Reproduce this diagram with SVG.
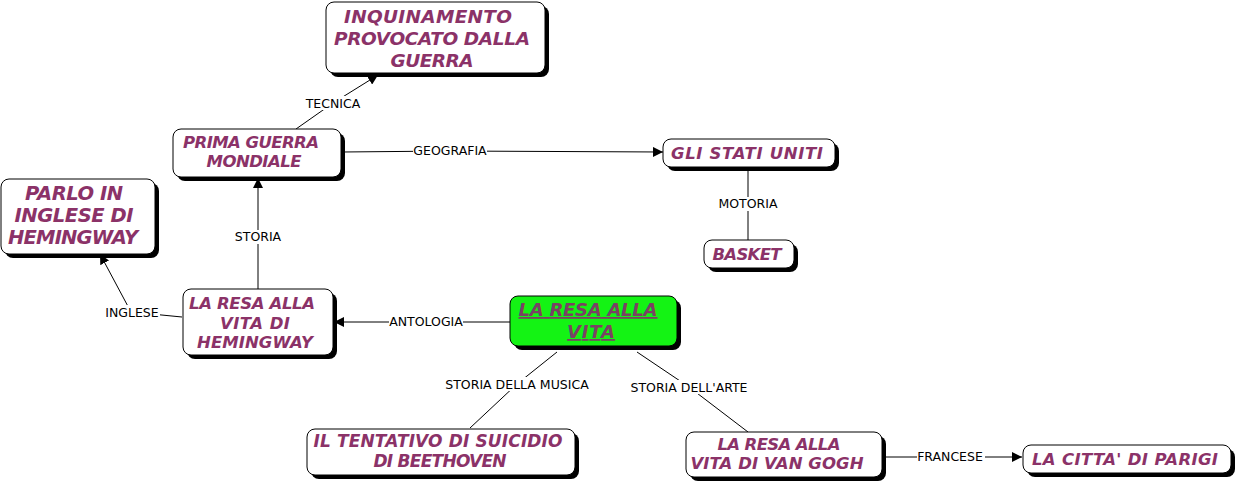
<svg xmlns="http://www.w3.org/2000/svg" width="1238" height="484" viewBox="0 0 1238 484">
<defs>
<style>
.box{fill:#fff;stroke:#000;stroke-width:1}
.sh{fill:#000}
.t{font-family:"DejaVu Sans",Verdana,sans-serif;font-weight:bold;font-style:italic;fill:#8b3268;text-anchor:middle}
.g{fill:#14f314;stroke:#000;stroke-width:1}
.gt{font-family:"DejaVu Sans",Verdana,sans-serif;font-weight:bold;font-style:italic;fill:#7a4263;text-anchor:middle;text-decoration:underline}
.ln{stroke:#000;stroke-width:1;fill:none}
.lb{font-family:"DejaVu Sans",Verdana,sans-serif;font-size:12.5px;fill:#000;text-anchor:middle}
.bg{fill:#fff}
</style>
<marker id="ar" viewBox="0 0 10 10" refX="10" refY="5" markerWidth="10" markerHeight="10" markerUnits="userSpaceOnUse" orient="auto">
<path d="M0,0 L10,5 L0,10 z" fill="#000"/>
</marker>
</defs>

<g id="connectors">
<path class="ln" d="M296,129 L333,103 L378,75" marker-end="url(#ar)"/>
<rect class="bg" x="305" y="96" width="57" height="14"/>
<text class="lb" x="333" y="108">TECNICA</text>

<path class="ln" d="M342,152 L450,151 L663,152" marker-end="url(#ar)"/>
<rect class="bg" x="413" y="144" width="74" height="14"/>
<text class="lb" x="450" y="155">GEOGRAFIA</text>

<path class="ln" d="M748,167 L748,240"/>
<rect class="bg" x="718" y="197" width="60" height="14"/>
<text class="lb" x="748" y="208">MOTORIA</text>

<path class="ln" d="M258,289 L258,178" marker-end="url(#ar)"/>
<rect class="bg" x="232" y="230" width="52" height="14"/>
<text class="lb" x="258" y="241">STORIA</text>

<path class="ln" d="M182,317 L131,312 L100,254" marker-end="url(#ar)"/>
<rect class="bg" x="104" y="305" width="56" height="14"/>
<text class="lb" x="132" y="317">INGLESE</text>

<path class="ln" d="M510,322 L334,322" marker-end="url(#ar)"/>
<rect class="bg" x="389" y="315" width="74" height="14"/>
<text class="lb" x="426" y="326">ANTOLOGIA</text>

<path class="ln" d="M557,352 L517,384 L470,428"/>
<rect class="bg" x="445" y="377" width="144" height="14"/>
<text class="lb" x="517" y="389">STORIA DELLA MUSICA</text>

<path class="ln" d="M637,352 L689,387 L748,432"/>
<rect class="bg" x="630" y="380" width="118" height="14"/>
<text class="lb" x="689" y="392">STORIA DELL'ARTE</text>

<path class="ln" d="M882,457 L950,457 L1022,457" marker-end="url(#ar)"/>
<rect class="bg" x="917" y="450" width="68" height="14"/>
<text class="lb" x="950" y="461">FRANCESE</text>
</g>

<g id="n-inquinamento">
<rect class="sh" x="330" y="6" width="219" height="71" rx="8"/>
<rect class="box" x="326" y="2" width="219" height="71" rx="8"/>
<text class="t" font-size="18.5" x="428" y="23" textLength="168">INQUINAMENTO</text>
<text class="t" font-size="18.5" x="432" y="45" textLength="196">PROVOCATO DALLA</text>
<text class="t" font-size="18.5" x="432" y="67" textLength="83">GUERRA</text>
</g>

<g id="n-prima-guerra">
<rect class="sh" x="177" y="133" width="168" height="48" rx="8"/>
<rect class="box" x="173" y="129" width="168" height="48" rx="8"/>
<text class="t" font-size="16.5" x="251" y="148" textLength="136">PRIMA GUERRA</text>
<text class="t" font-size="16.5" x="254" y="167" textLength="95">MONDIALE</text>
</g>

<g id="n-stati-uniti">
<rect class="sh" x="667" y="143" width="172" height="28" rx="8"/>
<rect class="box" x="663" y="139" width="172" height="28" rx="8"/>
<text class="t" font-size="16.5" x="747" y="159" textLength="152">GLI STATI UNITI</text>
</g>

<g id="n-basket">
<rect class="sh" x="708" y="244" width="90" height="28" rx="8"/>
<rect class="box" x="704" y="240" width="90" height="28" rx="8"/>
<text class="t" font-size="16.5" x="747" y="260" textLength="69">BASKET</text>
</g>

<g id="n-parlo">
<rect class="sh" x="5" y="183" width="154" height="75" rx="8"/>
<rect class="box" x="1" y="179" width="154" height="75" rx="8"/>
<text class="t" font-size="19.5" x="74" y="200" textLength="98">PARLO IN</text>
<text class="t" font-size="19.5" x="74" y="222" textLength="119">INGLESE DI</text>
<text class="t" font-size="19.5" x="73" y="244" textLength="130">HEMINGWAY</text>
</g>

<g id="n-hemingway">
<rect class="sh" x="187" y="293" width="150" height="66" rx="8"/>
<rect class="box" x="183" y="289" width="150" height="66" rx="8"/>
<text class="t" font-size="16.5" x="252" y="309" textLength="126">LA RESA ALLA</text>
<text class="t" font-size="16.5" x="255" y="329" textLength="70">VITA DI</text>
<text class="t" font-size="16.5" x="255" y="348" textLength="116">HEMINGWAY</text>
</g>

<g id="n-main">
<rect class="sh" x="514" y="300" width="167" height="50" rx="8"/>
<rect class="g" x="510" y="296" width="167" height="50" rx="8"/>
<text class="gt" font-size="18" x="588" y="316" textLength="139">LA RESA ALLA</text>
<text class="gt" font-size="18" x="591" y="338" textLength="48">VITA</text>
</g>

<g id="n-beethoven">
<rect class="sh" x="311" y="433" width="268" height="46" rx="8"/>
<rect class="box" x="307" y="429" width="268" height="46" rx="8"/>
<text class="t" font-size="17" x="438" y="447" textLength="249">IL TENTATIVO DI SUICIDIO</text>
<text class="t" font-size="17" x="440" y="467" textLength="133">DI BEETHOVEN</text>
</g>

<g id="n-vangogh">
<rect class="sh" x="690" y="436" width="196" height="45" rx="8"/>
<rect class="box" x="686" y="432" width="196" height="45" rx="8"/>
<text class="t" font-size="16.5" x="779" y="450" textLength="123">LA RESA ALLA</text>
<text class="t" font-size="16.5" x="777" y="469" textLength="173">VITA DI VAN GOGH</text>
</g>

<g id="n-parigi">
<rect class="sh" x="1027" y="449" width="208" height="28" rx="8"/>
<rect class="box" x="1023" y="445" width="208" height="28" rx="8"/>
<text class="t" font-size="16.5" x="1125" y="465" textLength="186">LA CITTA' DI PARIGI</text>
</g>
</svg>
